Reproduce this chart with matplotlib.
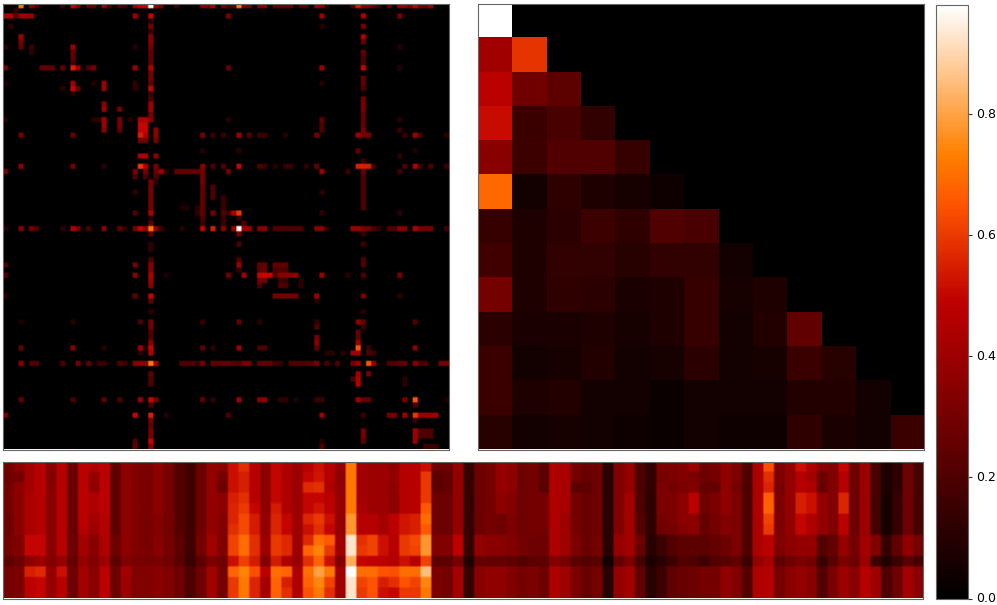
# plot.py
import numpy as np
import matplotlib
matplotlib.use('Agg')
import matplotlib.pyplot as plt
from matplotlib.cm import ScalarMappable
from matplotlib.colors import Normalize

VMAX = 0.98

# Left matrix, 86x86, mostly zero: (column, value) read for each row
r00 = [(3,.72),(5,.35),(6,.2),(11,.15),(13,.5),(14,.3),(16,.25),(17,.25),(19,.4),(20,.2),(22,.2),(23,.15),(25,.4),(26,.5),(27,.5),(28,.98),(29,.4),(30,.3),(33,.15),(38,.35),(39,.3),(40,.45),(42,.3),(43,.2),(44,.2),(45,.72),(46,.3),(47,.3),(49,.35),(50,.35),(52,.25),(53,.25),(54,.25),(55,.25),(57,.2),(58,.2),(60,.4),(61,.35),(62,.1),(67,.2),(68,.55),(69,.35),(70,.35),(71,.25),(72,.15),(74,.25),(76,.4),(77,.4),(78,.3),(79,.5),(80,.3),(81,.3),(82,.4)]
r01 = [(2,.15)]
r02 = [(0,.45),(1,.45),(2,.2),(3,.4),(4,.4),(5,.4),(25,.4),(28,.5),(43,.3),(61,.4),(69,.45),(76,.3)]
r03 = [(28,.1)]
r04 = [(1,.12),(28,.3),(61,.1),(69,.3)]
r05 = [(28,.15)]
r06 = [(3,.4),(28,.35),(69,.45)]
r07 = [(3,.3),(28,.35),(69,.25)]
r08 = [(0,.1),(3,.25),(5,.15),(13,.4),(25,.1),(28,.3),(76,.1)]
r09 = [(5,.12),(13,.25),(28,.25),(69,.25)]
r10 = [(13,.25),(28,.25),(69,.2)]
r11 = [(13,.2),(28,.25),(69,.2)]
r12 = [(0,.3),(7,.25),(8,.25),(9,.25),(11,.25),(13,.55),(14,.4),(16,.2),(17,.3),(25,.4),(28,.45),(43,.25),(61,.4),(69,.5),(76,.1)]
r13 = [(28,.3)]
r14 = [(28,.3),(69,.25)]
r15 = [(0,.08),(13,.4),(17,.1),(19,.4),(25,.12),(28,.25),(61,.1),(69,.25)]
r16 = [(11,.1),(13,.5),(14,.25),(19,.4),(25,.12),(28,.5),(69,.2)]
r17 = [(13,.1),(28,.15)]
r18 = [(28,.2),(69,.3)]
r19 = [(19,.35),(28,.4),(69,.3)]
r20 = [(19,.4),(22,.3),(28,.4),(69,.3)]
r21 = [(28,.3),(69,.25)]
r22 = [(0,.1),(17,.1),(18,.1),(19,.4),(22,.3),(24,.1),(26,.45),(27,.45),(28,.35),(43,.1),(61,.25),(69,.25),(76,.1)]
r23 = [(19,.4),(22,.3),(26,.5),(27,.5),(61,.2),(69,.25)]
r24 = [(19,.35),(22,.25),(26,.5),(27,.5),(29,.35),(61,.2),(69,.3),(76,.15)]
r25 = [(3,.3),(13,.25),(26,.55),(27,.45),(29,.35),(38,.3),(40,.15),(42,.15),(45,.4),(47,.2),(49,.15),(50,.15),(54,.1),(60,.3),(68,.4),(69,.3),(70,.3),(77,.15),(79,.4),(80,.15),(85,.1)]
r26 = [(26,.3),(27,.3),(29,.3)]
r28 = [(38,.1),(45,.1),(68,.25),(79,.08)]
r29 = [(26,.45),(27,.45),(29,.35),(76,.12)]
r30 = [(69,.15)]
r31 = [(3,.35),(13,.3),(19,.1),(26,.6),(27,.45),(29,.3),(38,.35),(40,.2),(42,.2),(45,.5),(49,.2),(50,.15),(52,.1),(54,.15),(55,.15),(58,.12),(60,.25),(68,.55),(69,.55),(70,.55),(71,.15),(77,.2),(79,.45),(80,.15),(82,.2),(85,.15)]
r32 = [(0,.3),(25,.3),(27,.3),(29,.25),(30,.4),(31,.1),(33,.25),(34,.25),(35,.25),(36,.25),(37,.25),(38,.3),(43,.3),(61,.4),(66,.15),(69,.25),(76,.15)]
r33 = [(25,.2),(27,.2),(29,.2),(38,.3),(69,.2)]
r34 = [(28,.3),(29,.1),(38,.3),(69,.2)]
r35 = [(28,.3),(38,.25),(40,.2),(69,.2)]
r36 = [(25,.12),(28,.3),(38,.25),(40,.2),(61,.12),(69,.2)]
r37 = [(28,.3),(38,.25),(40,.2),(42,.15),(69,.2)]
r38 = [(28,.3),(38,.25),(42,.15),(69,.2)]
r39 = [(28,.3),(34,.08),(35,.08),(37,.1),(38,.25),(42,.15),(69,.2)]
r40 = [(25,.2),(28,.45),(37,.12),(38,.25),(40,.3),(42,.2),(43,.15),(44,.45),(45,.6),(61,.12),(76,.12)]
r41 = [(28,.1),(38,.2),(42,.15),(45,.15)]
r42 = [(28,.25),(38,.15),(42,.15),(46,.2)]
r43 = [(0,.1),(3,.35),(5,.3),(6,.2),(11,.12),(13,.45),(14,.3),(16,.2),(19,.35),(22,.25),(23,.12),(25,.3),(26,.5),(27,.35),(28,.72),(29,.35),(30,.15),(34,.1),(38,.5),(40,.55),(42,.35),(44,.4),(45,.97),(46,.4),(47,.4),(49,.35),(50,.35),(52,.2),(53,.2),(54,.2),(55,.2),(56,.2),(57,.2),(60,.35),(61,.35),(62,.1),(67,.4),(68,.4),(69,.3),(70,.3),(71,.2),(72,.12),(74,.2),(75,.2),(76,.35),(77,.35),(79,.45),(80,.3),(81,.3),(82,.3),(85,.15)]
r44 = [(28,.25),(45,.3),(69,.15)]
r46 = [(28,.12),(45,.2),(69,.15)]
r47 = [(28,.12)]
r49 = [(28,.2),(45,.2),(69,.2)]
r50 = [(0,.2),(25,.3),(28,.35),(45,.4),(49,.25),(50,.25),(52,.25),(53,.25),(54,.25),(69,.2)]
r51 = [(28,.35),(45,.15),(49,.25),(50,.25),(52,.2),(53,.2),(54,.2)]
r52 = [(0,.2),(25,.35),(28,.45),(31,.08),(43,.3),(46,.4),(49,.5),(50,.5),(51,.5),(52,.2),(53,.35),(54,.35),(55,.35),(56,.35),(61,.4),(66,.1),(69,.2),(76,.3)]
r53 = [(28,.4),(49,.3),(50,.3),(53,.15),(54,.15),(57,.1)]
r54 = [(28,.35),(49,.2),(53,.2),(54,.2),(57,.12)]
r56 = [(0,.1),(25,.25),(28,.5),(52,.3),(53,.3),(54,.3),(55,.3),(56,.3),(60,.4),(69,.3),(76,.12)]
r57 = [(28,.25),(60,.1)]
r59 = [(28,.12),(69,.1)]
r61 = [(3,.08),(13,.1),(26,.2),(28,.3),(38,.15),(45,.25),(49,.1),(60,.12),(68,.35),(69,.25),(79,.2)]
r62 = [(28,.3),(60,.2),(69,.15)]
r63 = [(28,.2),(68,.25)]
r64 = [(28,.2),(60,.3),(68,.25)]
r65 = [(28,.35),(60,.35),(68,.4)]
r66 = [(3,.25),(13,.35),(19,.1),(26,.4),(27,.1),(28,.5),(38,.25),(40,.12),(45,.4),(49,.2),(50,.2),(60,.25),(68,.65),(70,.15),(79,.35)]
r67 = [(26,.12),(28,.45),(62,.1),(63,.1),(65,.1),(67,.4),(68,.4),(70,.2),(71,.15)]
r69 = [(3,.35),(5,.2),(6,.2),(11,.2),(14,.3),(16,.25),(18,.15),(19,.15),(22,.2),(23,.15),(25,.35),(26,.35),(27,.35),(28,.72),(29,.4),(34,.2),(35,.2),(36,.2),(37,.15),(38,.3),(40,.25),(41,.25),(42,.25),(43,.25),(44,.2),(45,.2),(46,.3),(47,.3),(49,.25),(50,.25),(51,.25),(52,.15),(53,.15),(55,.2),(56,.2),(57,.2),(58,.2),(59,.2),(60,.3),(62,.2),(64,.2),(67,.3),(68,.4),(70,.65),(71,.35),(74,.2),(75,.2),(76,.25),(77,.25),(79,.35),(80,.2),(81,.2),(84,.3),(85,.3)]
r71 = [(28,.25),(68,.4),(70,.3)]
r72 = [(28,.2),(67,.2),(68,.45),(77,.1)]
r73 = [(28,.2),(68,.45),(77,.1)]
r76 = [(3,.25),(13,.2),(19,.25),(22,.2),(26,.4),(28,.5),(29,.3),(38,.25),(40,.12),(45,.4),(49,.35),(50,.35),(53,.12),(54,.12),(56,.08),(60,.15),(61,.15),(68,.4),(69,.25),(70,.25),(77,.3),(79,.65),(85,.08)]
r77 = [(28,.2),(79,.2)]
r79 = [(0,.3),(25,.5),(28,.55),(31,.1),(43,.2),(61,.4),(69,.15),(74,.3),(75,.3),(77,.4),(79,.6),(80,.4),(81,.4),(82,.4),(83,.4)]
r80 = [(28,.3),(79,.15)]
r81 = [(28,.25)]
r82 = [(28,.3),(69,.3),(79,.4),(80,.2),(81,.2),(82,.2)]
r83 = [(28,.3),(69,.3),(79,.4),(80,.2),(81,.2),(82,.2)]
r84 = [(25,.2),(28,.5),(61,.1),(69,.25),(79,.4)]
r85 = [(25,.25),(28,.35),(61,.2),(81,.15),(82,.15),(83,.15)]

left_rows = {0:r00,1:r01,2:r02,3:r03,4:r04,5:r05,6:r06,7:r07,8:r08,9:r09,10:r10,11:r11,12:r12,13:r13,14:r14,15:r15,16:r16,17:r17,18:r18,19:r19,20:r20,21:r21,22:r22,23:r23,24:r24,25:r25,26:r26,28:r28,29:r29,30:r30,31:r31,32:r32,33:r33,34:r34,35:r35,36:r36,37:r37,38:r38,39:r39,40:r40,41:r41,42:r42,43:r43,44:r44,46:r46,47:r47,49:r49,50:r50,51:r51,52:r52,53:r53,54:r54,56:r56,57:r57,59:r59,61:r61,62:r62,63:r63,64:r64,65:r65,66:r66,67:r67,69:r69,71:r71,72:r72,73:r73,76:r76,77:r77,79:r79,80:r80,81:r81,82:r82,83:r83,84:r84,85:r85}

# Right matrix, lower triangle of 13x13
tri_rows = [
    [.98],
    [.41, .59],
    [.48, .29, .24],
    [.51, .15, .19, .13],
    [.35, .16, .21, .21, .14],
    [.69, .05, .12, .08, .06, .04],
    [.14, .08, .11, .16, .12, .21, .19],
    [.17, .08, .13, .13, .10, .13, .13, .05],
    [.30, .08, .12, .11, .07, .08, .14, .06, .08],
    [.11, .07, .07, .08, .06, .08, .14, .05, .09, .25],
    [.15, .05, .06, .09, .05, .06, .11, .05, .06, .15, .10],
    [.15, .08, .09, .05, .05, .03, .05, .05, .05, .09, .09, .05],
    [.10, .05, .06, .05, .04, .03, .05, .04, .04, .12, .07, .05, .15],
]

# Bottom strip, 13 rows of 86 columns
b00 = [.30,.36,.42,.47,.35,.47,.27,.48,.45,.48,.25,.36,.33,.31,.36,.30,.22,.17,.28,.38,.36,.52,.58,.47,.36,.50,.45,.40,.47,.52,.47,.38,.72,.42,.40,.40,.37,.47,.47,.52,.28,.28,.38,.14,.28,.30,.38,.36,.28,.30,.24,.45,.43,.30,.27,.28,.10,.33,.38,.20,.13,.32,.32,.34,.40,.28,.30,.37,.32,.20,.45,.64,.32,.38,.52,.45,.35,.33,.50,.28,.40,.18,.08,.12,.28,.18]
b01 = [.28,.30,.42,.47,.34,.47,.27,.48,.38,.48,.25,.36,.33,.31,.36,.30,.22,.17,.28,.38,.30,.52,.55,.47,.36,.50,.44,.40,.50,.53,.46,.37,.72,.42,.40,.40,.38,.47,.47,.60,.24,.26,.38,.14,.28,.30,.38,.36,.28,.30,.24,.45,.43,.30,.27,.28,.10,.33,.38,.20,.13,.30,.32,.34,.32,.28,.30,.37,.32,.20,.45,.58,.32,.38,.46,.42,.28,.33,.46,.28,.40,.18,.08,.12,.28,.18]
b02 = [.30,.36,.42,.47,.35,.47,.27,.48,.37,.48,.25,.36,.33,.31,.36,.30,.22,.17,.28,.38,.28,.52,.55,.47,.36,.50,.45,.40,.57,.58,.45,.38,.72,.42,.40,.40,.37,.47,.47,.60,.24,.26,.38,.14,.28,.30,.38,.36,.28,.30,.24,.45,.43,.24,.24,.28,.10,.33,.38,.20,.13,.32,.30,.32,.34,.26,.26,.37,.30,.20,.45,.56,.30,.38,.47,.45,.27,.33,.46,.28,.40,.18,.08,.12,.28,.18]
b03 = [.30,.36,.44,.47,.35,.47,.27,.48,.45,.48,.25,.36,.33,.31,.36,.30,.22,.17,.28,.38,.36,.55,.58,.47,.36,.50,.45,.40,.50,.50,.48,.38,.72,.42,.40,.40,.36,.47,.47,.60,.28,.28,.38,.14,.28,.30,.36,.34,.28,.30,.30,.45,.43,.30,.27,.28,.10,.33,.42,.20,.12,.32,.32,.36,.48,.28,.32,.37,.32,.20,.45,.67,.32,.38,.55,.52,.38,.33,.56,.28,.40,.18,.06,.14,.28,.18]
b04 = [.30,.36,.44,.47,.35,.47,.27,.48,.45,.48,.25,.36,.33,.31,.36,.30,.22,.17,.28,.38,.36,.56,.60,.50,.36,.54,.45,.40,.50,.53,.48,.38,.72,.44,.40,.40,.36,.47,.47,.66,.28,.28,.38,.14,.28,.30,.36,.34,.28,.30,.30,.45,.43,.30,.27,.28,.10,.33,.42,.20,.12,.32,.32,.36,.48,.28,.32,.37,.32,.20,.45,.68,.32,.38,.55,.52,.38,.33,.56,.28,.40,.18,.06,.14,.28,.18]
b05 = [.28,.36,.44,.47,.35,.47,.27,.48,.42,.46,.25,.36,.33,.31,.34,.30,.22,.17,.28,.38,.34,.56,.63,.54,.38,.56,.50,.40,.56,.60,.52,.38,.78,.47,.47,.42,.48,.53,.55,.70,.28,.28,.38,.14,.28,.30,.28,.32,.28,.30,.30,.45,.40,.30,.27,.28,.10,.33,.42,.22,.12,.30,.32,.36,.36,.26,.30,.34,.32,.20,.45,.62,.32,.38,.50,.45,.38,.33,.48,.28,.40,.18,.06,.14,.28,.18]
b06 = [.28,.36,.44,.47,.35,.47,.27,.46,.40,.46,.25,.36,.33,.31,.34,.30,.22,.17,.28,.38,.34,.58,.63,.54,.38,.56,.50,.40,.52,.58,.50,.38,.78,.47,.47,.42,.48,.53,.55,.66,.28,.28,.38,.14,.28,.30,.28,.32,.28,.30,.30,.45,.40,.30,.27,.28,.10,.33,.42,.22,.12,.28,.30,.34,.36,.26,.30,.34,.32,.20,.45,.60,.32,.38,.50,.45,.38,.33,.48,.28,.40,.18,.06,.14,.28,.18]
b07 = [.30,.33,.50,.50,.35,.47,.28,.42,.35,.45,.28,.36,.33,.31,.35,.30,.24,.17,.30,.42,.33,.62,.70,.58,.40,.60,.57,.40,.57,.70,.66,.40,.93,.58,.62,.52,.47,.60,.63,.78,.33,.33,.48,.14,.38,.35,.35,.33,.30,.28,.28,.45,.40,.32,.27,.30,.10,.38,.42,.28,.10,.16,.22,.24,.24,.24,.26,.28,.32,.20,.45,.48,.33,.36,.38,.38,.22,.26,.38,.30,.42,.33,.14,.25,.37,.30]
b08 = [.30,.33,.50,.50,.35,.47,.28,.42,.35,.45,.28,.36,.33,.31,.35,.30,.24,.17,.30,.42,.33,.62,.70,.58,.40,.60,.57,.40,.68,.74,.60,.40,.93,.60,.62,.52,.47,.60,.62,.78,.33,.33,.48,.14,.38,.35,.35,.33,.30,.28,.28,.45,.40,.32,.27,.30,.10,.38,.42,.26,.10,.16,.22,.24,.24,.24,.26,.28,.32,.20,.45,.48,.32,.36,.38,.38,.22,.26,.38,.30,.42,.33,.14,.25,.37,.30]
b09 = [.24,.28,.36,.40,.34,.38,.26,.38,.33,.40,.24,.33,.31,.30,.31,.29,.23,.15,.24,.32,.29,.52,.61,.54,.33,.54,.45,.39,.58,.68,.52,.33,.82,.50,.49,.48,.46,.52,.46,.62,.24,.24,.30,.09,.26,.26,.26,.24,.22,.24,.24,.34,.30,.24,.22,.23,.05,.26,.32,.18,.07,.11,.16,.22,.20,.16,.22,.23,.25,.16,.38,.43,.24,.28,.32,.30,.15,.23,.32,.28,.40,.16,.09,.16,.23,.18]
b10 = [.30,.32,.55,.57,.38,.52,.28,.42,.35,.48,.28,.42,.33,.33,.35,.33,.28,.20,.28,.42,.30,.68,.74,.64,.48,.70,.68,.45,.70,.80,.72,.40,.98,.70,.70,.65,.64,.70,.70,.85,.32,.30,.42,.14,.35,.37,.37,.33,.30,.32,.28,.45,.40,.32,.27,.30,.10,.38,.42,.25,.10,.16,.25,.27,.28,.30,.30,.37,.33,.22,.45,.46,.30,.35,.38,.35,.22,.32,.40,.35,.47,.40,.20,.28,.42,.35]
b11 = [.30,.32,.48,.50,.38,.47,.28,.42,.35,.48,.28,.40,.33,.33,.35,.33,.28,.20,.28,.42,.30,.60,.72,.56,.42,.68,.55,.45,.68,.75,.62,.40,.93,.62,.65,.55,.58,.65,.62,.75,.32,.30,.42,.14,.35,.37,.37,.33,.30,.32,.28,.45,.40,.32,.27,.30,.10,.38,.42,.25,.10,.16,.25,.27,.28,.30,.30,.37,.33,.22,.45,.46,.30,.35,.38,.35,.22,.32,.40,.35,.47,.40,.20,.28,.42,.35]
b12 = [.30,.32,.48,.50,.38,.47,.28,.42,.35,.48,.28,.40,.33,.33,.35,.33,.28,.20,.28,.42,.30,.60,.72,.56,.42,.68,.58,.45,.65,.72,.58,.40,.93,.60,.65,.52,.50,.60,.60,.72,.32,.30,.42,.14,.35,.37,.37,.33,.30,.32,.28,.45,.40,.32,.27,.30,.10,.38,.42,.25,.10,.16,.25,.27,.28,.30,.30,.37,.33,.22,.45,.46,.30,.35,.38,.35,.22,.32,.40,.35,.47,.40,.20,.28,.42,.35]
band = np.array([b00,b01,b02,b03,b04,b05,b06,b07,b08,b09,b10,b11,b12])

left = np.zeros((86, 86))
for row, cells in left_rows.items():
    for col, val in cells:
        left[row, col] = val

tri = np.zeros((13, 13))
for i, vals in enumerate(tri_rows):
    tri[i, :len(vals)] = vals

W, H = 997, 605

def add_ax(x0, y0, x1, y1):
    # pixel box, y measured from the top
    return fig.add_axes([x0 / W, 1 - y1 / H, (x1 - x0) / W, (y1 - y0) / H])

def soften(data, n):
    # repeat cells so bilinear only softens the cell edges
    return np.repeat(np.repeat(data, n, axis=0), n, axis=1)

fig = plt.figure(figsize=(W / 100, H / 100), dpi=100)

ax_left = add_ax(3, 4, 449, 449.5)
ax_tri = add_ax(478, 4, 924, 449.5)
ax_band = add_ax(3, 462, 923, 598.5)
cax = add_ax(936, 5, 968, 598.5)

for ax, data, interp in [(ax_left, soften(left, 3), 'bilinear'), (ax_tri, tri, 'nearest'), (ax_band, soften(band, 5), 'bilinear')]:
    ax.imshow(data, cmap='gist_heat', vmin=0, vmax=VMAX, aspect='auto', interpolation=interp)
    ax.set_xticks([])
    ax.set_yticks([])
    for sp in ax.spines.values():
        sp.set_linewidth(0.8)
        sp.set_color('#666666')

cb = fig.colorbar(ScalarMappable(Normalize(0, VMAX), 'gist_heat'), cax=cax)
cb.set_ticks([0.0, 0.2, 0.4, 0.6, 0.8])
cb.ax.tick_params(labelsize=9, length=3, width=0.8, pad=2.5, color='#333333')
for lab in cb.ax.get_yticklabels():
    lab.set_va('center')
cb.outline.set_linewidth(0.8)
cb.outline.set_edgecolor('#666666')

fig.savefig('out.png', dpi=100)
